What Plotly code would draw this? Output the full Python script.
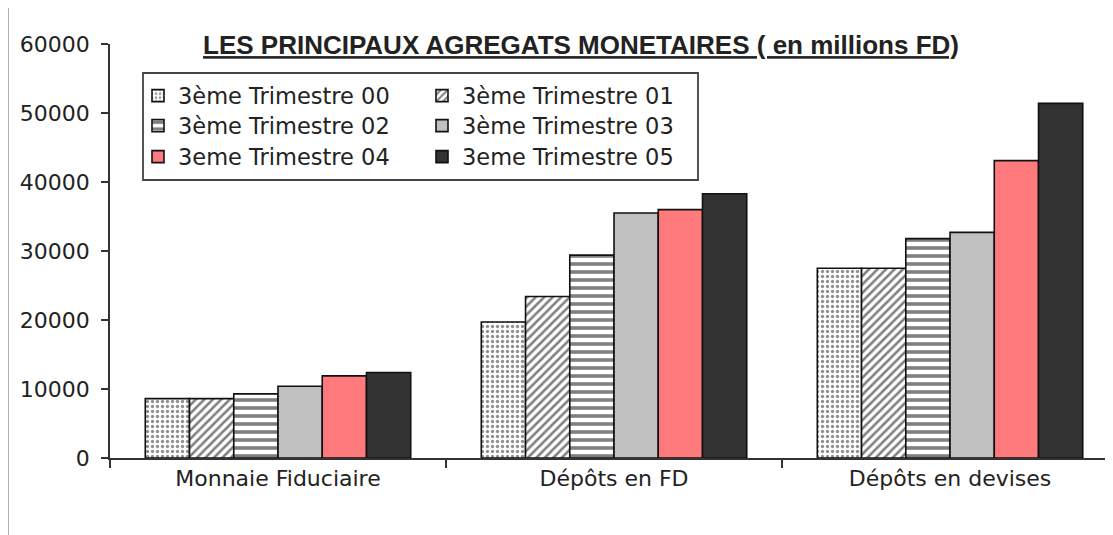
import plotly.graph_objects as go

categories = ["Monnaie Fiduciaire", "Dépôts en FD", "Dépôts en devises"]
series_names = ["3ème Trimestre 00", "3ème Trimestre 01", "3ème Trimestre 02",
                "3ème Trimestre 03", "3eme Trimestre 04", "3eme Trimestre 05"]
t00 = [8600, 19700, 27500]
t01 = [8600, 23400, 27500]
t02 = [9300, 29400, 31800]
t03 = [10400, 35500, 32700]
t04 = [11900, 36000, 43100]
t05 = [12400, 38300, 51400]
values = [t00, t01, t02, t03, t04, t05]
y_ticks = [0, 10000, 20000, 30000, 40000, 50000, 60000]

OFF = 8  # page body margin
W, H = 1113 - OFF, 535 - OFF
L, R, T, B = 110 - OFF, 0, 44 - OFF, 77
PW, PH = W - L - R, H - T - B

def px_x(p):
    return (p - OFF - L) / PW

def px_y(p):
    return (H - B - (p - OFF)) / PH

colors = ["white", "white", "white", "#c0c0c0", "#ff7a7c", "#333333"]
patterns = [
    dict(shape=".", fgcolor="#222222", bgcolor="white", size=5, solidity=0.35),
    dict(shape="/", fgcolor="#000000", bgcolor="white", size=6, solidity=0.42),
    dict(shape="-", fgcolor="#000000", bgcolor="white", size=8, solidity=0.45),
    None, None, None,
]

fig = go.Figure()
legend_names = ["legend", "legend2", "legend3", "legend4", "legend5", "legend6"]
for i, (name, vals) in enumerate(zip(series_names, values)):
    marker = dict(color=colors[i], line=dict(color="#111111", width=1.6))
    if patterns[i] is not None:
        marker["pattern"] = patterns[i]
    fig.add_trace(go.Bar(
        x=categories, y=vals, name=name, marker=marker,
        legend=legend_names[i],
    ))

font_main = "DejaVu Sans, Liberation Sans, Arial, sans-serif"
row_y = [96, 126, 157]
col_x = [138, 422]
layout_legends = {}
for i, ln in enumerate(legend_names):
    col = i % 2
    row = i // 2
    layout_legends[ln] = dict(
        x=px_x(col_x[col]), y=px_y(row_y[row]), xanchor="left", yanchor="middle",
        xref="paper", yref="paper",
        bgcolor="rgba(0,0,0,0)", borderwidth=0,
        font=dict(family=font_main, size=22.5, color="#222222"),
        itemwidth=30,
    )

fig.update_layout(
    width=W, height=H,
    margin=dict(l=L, r=R, t=T, b=B, pad=0),
    paper_bgcolor="white", plot_bgcolor="white",
    barmode="group", bargap=0.21, bargroupgap=0,
    showlegend=True,
    title=dict(
        text="<b><u>LES PRINCIPAUX AGREGATS MONETAIRES ( en millions FD)</u></b>",
        x=px_x(581), xref="paper", xanchor="center",
        y=1 - (45 - OFF) / H, yref="container", yanchor="middle",
        font=dict(family="Liberation Sans Narrow, Liberation Sans, Arial, sans-serif",
                  size=26, color="#222222"),
    ),
    xaxis=dict(
        type="category", range=[-0.5, 2.485],
        showline=True, linecolor="#333333", linewidth=1.5,
        ticks="outside", tickson="boundaries", ticklen=8, tickcolor="#333333", tickwidth=1.5,
        tickfont=dict(family=font_main, size=22, color="#222222"),
        showgrid=False, zeroline=False, fixedrange=True,
    ),
    yaxis=dict(
        range=[0, 60000], tickvals=y_ticks, ticktext=[str(v) for v in y_ticks],
        showline=True, linecolor="#333333", linewidth=1.5,
        ticks="outside", ticklen=7, tickcolor="#333333", tickwidth=1.5,
        ticklabelstandoff=7,
        tickfont=dict(family=font_main, size=22, color="#222222"),
        showgrid=False, zeroline=False, fixedrange=True,
    ),
    shapes=[
        dict(type="rect", xref="paper", yref="paper",
             x0=px_x(143), x1=px_x(698), y0=px_y(180), y1=px_y(73),
             line=dict(color="#444444", width=1.8), fillcolor="rgba(0,0,0,0)", layer="below"),
        dict(type="line", xref="paper", yref="paper",
             x0=px_x(8), x1=px_x(8), y0=px_y(OFF), y1=px_y(535),
             line=dict(color="#777777", width=1.2)),
    ],
    **layout_legends,
)

fig.write_html("out.html")
